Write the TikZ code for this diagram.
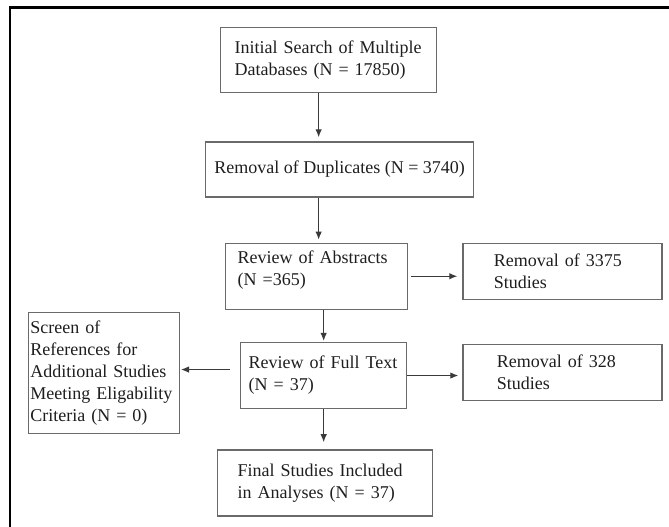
\documentclass[tikz,border=0pt]{standalone}
\usepackage{fontspec}
\setmainfont{Liberation Serif}
\usetikzlibrary{arrows.meta,positioning}
\definecolor{flgrey}{HTML}{6A6A6A}
\definecolor{flline}{HTML}{3A3A3A}
\definecolor{fltext}{HTML}{1E1E1E}

\begin{document}
\begin{tikzpicture}[
  x=1pt, y=1pt,
  font=\fontsize{18}{22}\selectfont,
  box/.style={draw=flgrey, line width=1.3pt, text=fltext, align=left, inner ysep=0pt, minimum height=#1},
  box/.default=66pt,
  arr/.style={-{Latex[length=8pt, width=6.5pt]}, line width=1.1pt, flline},
]
\useasboundingbox (0,0) rectangle (669,-527);
% frame, top and left only
\draw[line width=2.2pt] (10,-527) -- (10,-7.5) -- (669,-7.5);

% main column
\node[box=65pt, text width=188pt, inner xsep=14pt, anchor=north west] (search) at (220,-27)
  {Initial Search of Multiple\\Databases (N = 17850)};
\node[box=55pt, minimum width=268pt, inner xsep=0pt, below right=48pt and -15pt of search.south west] (dup)
  {Removal of Duplicates (N = 3740)};
\node[box, text width=158pt, inner xsep=12pt, below right=45pt and 20pt of dup.south west] (abs)
  {Review of Abstracts\\(N =365)\\[-6pt]\mbox{}};
\node[box, text width=150pt, inner xsep=8pt, below right=32pt and 15pt of abs.south west] (full)
  {Review of Full Text\\(N = 37)};
\node[box, text width=175pt, inner xsep=20pt, below right=40pt and -23pt of full.south west] (final)
  {Final Studies Included\\in Analyses (N = 37)};
% side boxes
\node[box=56pt, text width=137pt, inner xsep=31pt, below right=0pt and 54pt of abs.north east] (remabs)
  {Removal of 3375\\Studies};
\node[box=56pt, text width=131pt, inner xsep=34pt, below right=2pt and 55pt of full.north east] (remfull)
  {Removal of 328\\Studies};
\node[box=121pt, text width=147pt, inner xsep=2pt, below left=-30pt and 60pt of full.north west] (screen)
  {Screen of\\References for\\Additional Studies\\Meeting Eligability\\Criteria (N = 0)};

\draw[arr, shorten >=4pt] ([xshift=-10pt]search.south) -- ([xshift=-10pt]search.south |- dup.north);
\draw[arr, shorten >=3pt] ([xshift=-21pt]dup.south) -- ([xshift=-21pt]dup.south |- abs.north);
\draw[arr, shorten >=1pt] (abs.south -| full.north) -- (full.north);
\draw[arr, shorten >=7pt] (full.south) -- (full.south |- final.north);
\draw[arr, shorten <=3pt, shorten >=5pt] (abs.east) -- (abs.east -| remabs.west);
\draw[arr, shorten >=4pt] (full.east) -- (full.east -| remfull.west);
\draw[arr, shorten <=10pt, shorten >=1pt] ([yshift=6pt]full.west) -- ([yshift=6pt]full.west -| screen.east);
\end{tikzpicture}
\end{document}
